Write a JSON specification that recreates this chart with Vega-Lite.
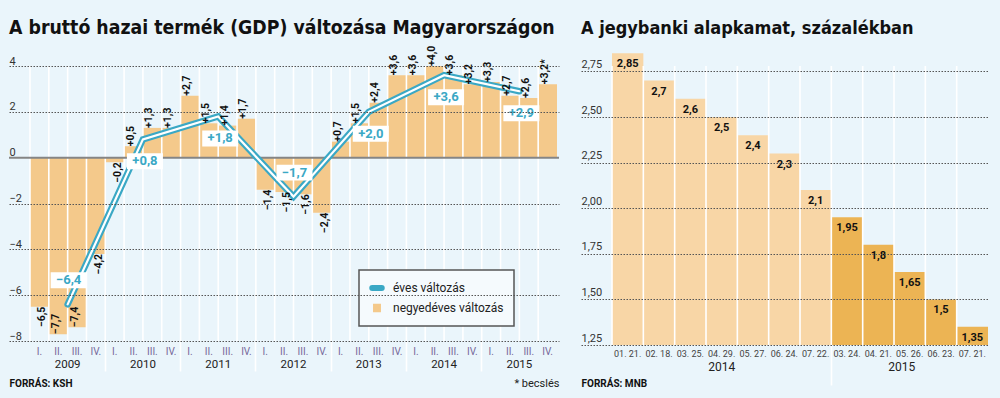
{
  "$schema": "https://vega.github.io/schema/vega-lite/v6.json",
  "background": "#eaf5fb",
  "padding": {"left": 8, "top": 19, "right": 20, "bottom": 20},
  "autosize": {"type": "pad"},
  "bounds": "flush",
  "spacing": 22,
  "resolve": {"scale": {"color": "independent"}, "legend": {"color": "independent"}},
  "config": {
    "view": {"stroke": null},
    "locale": {"number": {"decimal": ",", "thousands": " ", "grouping": [3], "currency": ["", ""]}},
    "font": "Roboto",
    "text": {"font": "Roboto"},
    "axis": {"labelFont": "Roboto", "titleFont": "Roboto"}
  },
  "datasets": {
    "gdpq": [
      {"qk": "2009 I.", "v": -6.5}, {"qk": "2009 II.", "v": -7.7}, {"qk": "2009 III.", "v": -7.4}, {"qk": "2009 IV.", "v": -4.2},
      {"qk": "2010 I.", "v": -0.2}, {"qk": "2010 II.", "v": 0.5}, {"qk": "2010 III.", "v": 1.3}, {"qk": "2010 IV.", "v": 1.3},
      {"qk": "2011 I.", "v": 2.7}, {"qk": "2011 II.", "v": 1.5}, {"qk": "2011 III.", "v": 1.4}, {"qk": "2011 IV.", "v": 1.7},
      {"qk": "2012 I.", "v": -1.4}, {"qk": "2012 II.", "v": -1.5}, {"qk": "2012 III.", "v": -1.6}, {"qk": "2012 IV.", "v": -2.4},
      {"qk": "2013 I.", "v": 0.7}, {"qk": "2013 II.", "v": 1.5}, {"qk": "2013 III.", "v": 2.4}, {"qk": "2013 IV.", "v": 3.6},
      {"qk": "2014 I.", "v": 3.6}, {"qk": "2014 II.", "v": 4.0}, {"qk": "2014 III.", "v": 3.6}, {"qk": "2014 IV.", "v": 3.2},
      {"qk": "2015 I.", "v": 3.3}, {"qk": "2015 II.", "v": 2.7}, {"qk": "2015 III.", "v": 2.6}, {"qk": "2015 IV.", "v": 3.2, "est": true}
    ],
    "gdpy": [
      {"qk": "2009 III.", "a": -6.4}, {"qk": "2010 III.", "a": 0.8}, {"qk": "2011 III.", "a": 1.8},
      {"qk": "2012 III.", "a": -1.7}, {"qk": "2013 III.", "a": 2.0}, {"qk": "2014 III.", "a": 3.6}, {"qk": "2015 III.", "a": 2.9}
    ],
    "rate": [
      {"d": "2014. 01. 21.", "year": "2014", "r": 2.85}, {"d": "2014. 02. 18.", "year": "2014", "r": 2.7},
      {"d": "2014. 03. 25.", "year": "2014", "r": 2.6}, {"d": "2014. 04. 29.", "year": "2014", "r": 2.5},
      {"d": "2014. 05. 27.", "year": "2014", "r": 2.4}, {"d": "2014. 06. 24.", "year": "2014", "r": 2.3},
      {"d": "2014. 07. 22.", "year": "2014", "r": 2.1}, {"d": "2015. 03. 24.", "year": "2015", "r": 1.95},
      {"d": "2015. 04. 21.", "year": "2015", "r": 1.8}, {"d": "2015. 05. 26.", "year": "2015", "r": 1.65},
      {"d": "2015. 06. 23.", "year": "2015", "r": 1.5}, {"d": "2015. 07. 21.", "year": "2015", "r": 1.35}
    ]
  },
  "hconcat": [
    {
      "width": 550,
      "height": 275,
      "title": {"text": "A bruttó hazai termék (GDP) változása Magyarországon", "anchor": "start", "frame": "group", "font": "DejaVu Sans Condensed", "fontSize": 19.3, "fontWeight": "bold", "color": "#111", "offset": -8, "baseline": "alphabetic"},
      "resolve": {"axis": {"x": "independent"}},
      "layer": [
        {
          "data": {"name": "gdpq"},
          "mark": {"type": "bar"},
          "encoding": {
            "x": {"field": "qk", "type": "ordinal", "title": null,
              "scale": {"paddingInner": 0, "paddingOuter": 0.611, "align": 0.913},
              "axis": {"orient": "bottom", "labelExpr": "split(datum.value, ' ')[1]", "labelAngle": 0, "labelFontSize": 10, "labelColor": "#76689a", "labelBaseline": "top",
                "bandPosition": 0, "ticks": true, "tickSize": 30, "tickWidth": 1.6,
                "tickColor": {"condition": {"test": "indexof(datum.value, ' I.') > 0 && datum.value != '2009 I.'", "value": "white"}, "value": "transparent"},
                "labelPadding": -25, "domain": false, "grid": false,
                "title": "* becslés", "titleAnchor": "end", "titleAlign": "right", "titleX": 550, "titleY": 45, "titleBaseline": "alphabetic", "titleFontSize": 11, "titleFontWeight": "normal", "titleColor": "#222"}},
            "y": {"field": "v", "type": "quantitative", "title": null,
              "scale": {"domain": [-8, 4], "nice": false},
              "axis": {"values": [-8, -6, -4, -2, 0, 2, 4], "format": "d", "domain": false, "ticks": false, "tickSize": 0, "labelAlign": "left", "labelBaseline": "alphabetic", "labelPadding": 0, "labelOffset": -2, "labelFlush": false, "labelFontSize": 11, "labelColor": "#333",
                "grid": true, "gridDash": [1.5, 1.5], "gridColor": "#555", "gridWidth": 1.2,
                "gridOpacity": {"condition": {"test": "datum.value === 0", "value": 0}, "value": 1}, "zindex": 1}},
            "color": {"datum": "negyedéves változás", "type": "nominal",
              "scale": {"domain": ["éves változás", "negyedéves változás"], "range": ["#3aa8c5", "#f4c98b"]},
              "legend": {"title": null, "orient": "none", "legendX": 350, "legendY": 204, "direction": "vertical",
                "padding": 10, "rowPadding": 5, "labelOffset": 8, "symbolSize": 169,
                "strokeColor": "#555", "fillColor": "#f5fafd",
                "labelFontSize": 12, "labelColor": "#222", "labelLimit": 300,
                "encode": {
                  "legend": {"update": {"strokeWidth": {"value": 1.5}}},
                  "symbols": {"update": {
                    "shape": {"signal": "datum.value === 'éves változás' ? 'M-0.73,-0.27L0.73,-0.27A0.27,0.27 0 0 1 0.73,0.27L-0.73,0.27A0.27,0.27 0 0 1 -0.73,-0.27Z' : 'M-0.42,-0.45L0.42,-0.45L0.42,0.45L-0.42,0.45Z'"},
                    "fill": {"signal": "datum.value === 'éves változás' ? 'white' : '#f4c98b'"},
                    "stroke": {"signal": "datum.value === 'éves változás' ? '#3aa8c5' : 'transparent'"},
                    "strokeWidth": {"value": 2.5}, "opacity": {"value": 1}, "fillOpacity": {"value": 1}, "strokeOpacity": {"value": 1}}}
                }}}
          }
        },
        {
          "data": {"name": "gdpq"},
          "mark": {"type": "rule", "color": "white", "strokeWidth": 1.6},
          "encoding": {
            "x": {"field": "qk", "type": "ordinal", "bandPosition": 0, "title": null,
              "axis": {"orient": "bottom", "values": ["2009 I.", "2010 I.", "2011 I.", "2012 I.", "2013 I.", "2014 I.", "2015 I."], "labelOffset": 28.23,
                "labelExpr": "split(datum.value, ' ')[0]", "ticks": false, "tickSize": 0, "domain": false, "grid": false, "labelPadding": 17, "labelBaseline": "top", "labelFontSize": 11.5, "labelColor": "#222", "labelAngle": 0,
                "title": "FORRÁS: KSH", "titleX": 0, "titleY": 45, "titleAlign": "left", "titleAnchor": "start", "titleBaseline": "alphabetic", "titleFontSize": 10, "titleFontWeight": "bold", "titleColor": "#111"}},
            "y": {"datum": 4},
            "y2": {"datum": -8}
          }
        },
        {
          "data": {"values": [{}]},
          "mark": {"type": "rule", "color": "#858585", "strokeWidth": 2},
          "encoding": {"y": {"datum": 0}}
        },
        {
          "data": {"name": "gdpy"},
          "mark": {"type": "line", "strokeWidth": 6.5, "strokeCap": "round", "strokeJoin": "miter"},
          "encoding": {
            "x": {"field": "qk", "type": "ordinal", "bandPosition": 0, "axis": null},
            "y": {"field": "a", "type": "quantitative", "title": null},
            "color": {"datum": "éves változás", "type": "nominal"}
          }
        },
        {
          "data": {"name": "gdpy"},
          "mark": {"type": "line", "strokeWidth": 2.2, "strokeCap": "round", "strokeJoin": "miter", "color": "white"},
          "encoding": {
            "x": {"field": "qk", "type": "ordinal", "bandPosition": 0, "axis": null},
            "y": {"field": "a", "type": "quantitative", "title": null}
          }
        },
        {
          "data": {"name": "gdpq"},
          "transform": [{"calculate": "format(datum.v, '+.1f') + (datum.est ? '*' : '')", "as": "lbl"}, {"filter": "datum.v >= 0"}],
          "mark": {"type": "text", "angle": 270, "align": "left", "baseline": "middle", "dy": -3, "fontSize": 10.5, "fontWeight": "bold", "color": "#111"},
          "encoding": {
            "x": {"field": "qk", "type": "ordinal", "axis": null},
            "y": {"field": "v", "type": "quantitative", "title": null},
            "text": {"field": "lbl"}
          }
        },
        {
          "data": {"name": "gdpq"},
          "transform": [{"calculate": "format(datum.v, '+.1f')", "as": "lbl"}, {"filter": "datum.v < 0 && datum.v >= -7"}],
          "mark": {"type": "text", "angle": 270, "align": "right", "baseline": "middle", "dy": 3, "fontSize": 10.5, "fontWeight": "bold", "color": "#111"},
          "encoding": {
            "x": {"field": "qk", "type": "ordinal", "axis": null},
            "y": {"field": "v", "type": "quantitative", "title": null},
            "text": {"field": "lbl"}
          }
        },
        {
          "data": {"name": "gdpq"},
          "transform": [{"calculate": "format(datum.v, '+.1f')", "as": "lbl"}, {"filter": "datum.v < -7"}],
          "mark": {"type": "text", "angle": 270, "align": "left", "baseline": "middle", "dy": -2, "fontSize": 10.5, "fontWeight": "bold", "color": "#111"},
          "encoding": {
            "x": {"field": "qk", "type": "ordinal", "axis": null},
            "y": {"field": "v", "type": "quantitative", "title": null},
            "text": {"field": "lbl"}
          }
        },
        {
          "data": {"name": "gdpy"},
          "transform": [{"filter": "datum.a < 0"}],
          "mark": {"type": "point", "shape": "M-1,-0.444L1,-0.444L1,0.444L-1,0.444Z", "size": 1296, "filled": true, "color": "white", "opacity": 1, "xOffset": 1, "yOffset": -24},
          "encoding": {
            "x": {"field": "qk", "type": "ordinal", "bandPosition": 0, "axis": null},
            "y": {"field": "a", "type": "quantitative", "title": null}
          }
        },
        {
          "data": {"name": "gdpy"},
          "transform": [{"filter": "datum.a >= 0"}],
          "mark": {"type": "point", "shape": "M-1,-0.444L1,-0.444L1,0.444L-1,0.444Z", "size": 1296, "filled": true, "color": "white", "opacity": 1, "xOffset": 2, "yOffset": 22},
          "encoding": {
            "x": {"field": "qk", "type": "ordinal", "bandPosition": 0, "axis": null},
            "y": {"field": "a", "type": "quantitative", "title": null}
          }
        },
        {
          "data": {"name": "gdpy"},
          "transform": [{"filter": "datum.a < 0"}],
          "mark": {"type": "text", "fontSize": 13, "fontWeight": "bold", "color": "#3aa8c5", "align": "center", "baseline": "middle", "xOffset": 1, "yOffset": -24},
          "encoding": {
            "x": {"field": "qk", "type": "ordinal", "bandPosition": 0, "axis": null},
            "y": {"field": "a", "type": "quantitative", "title": null},
            "text": {"field": "a", "type": "quantitative", "format": "+.1f"}
          }
        },
        {
          "data": {"name": "gdpy"},
          "transform": [{"filter": "datum.a >= 0"}],
          "mark": {"type": "text", "fontSize": 13, "fontWeight": "bold", "color": "#3aa8c5", "align": "center", "baseline": "middle", "xOffset": 2, "yOffset": 22},
          "encoding": {
            "x": {"field": "qk", "type": "ordinal", "bandPosition": 0, "axis": null},
            "y": {"field": "a", "type": "quantitative", "title": null},
            "text": {"field": "a", "type": "quantitative", "format": "+.1f"}
          }
        }
      ]
    },
    {
      "width": 408,
      "height": 279,
      "title": {"text": "A jegybanki alapkamat, százalékban", "anchor": "start", "frame": "group", "font": "DejaVu Sans Condensed", "fontSize": 18, "fontWeight": "bold", "color": "#111", "offset": 1, "baseline": "alphabetic"},
      "data": {"name": "rate"},
      "resolve": {"axis": {"x": "independent"}},
      "layer": [
        {
          "mark": {"type": "bar"},
          "encoding": {
            "x": {"field": "d", "type": "ordinal", "title": null,
              "scale": {"paddingInner": 0, "paddingOuter": 0.5106, "align": 0.969},
              "axis": {"orient": "bottom", "labelExpr": "slice(datum.value, 6)", "labelAngle": 0, "labelFontSize": 9, "labelColor": "#444", "labelBaseline": "top",
                "bandPosition": 0, "ticks": true, "tickSize": 40, "tickWidth": 1.6,
                "tickColor": {"condition": {"test": "datum.value == '2015. 03. 24.'", "value": "white"}, "value": "transparent"},
                "labelPadding": -36, "domain": false, "grid": false, "title": null}},
            "y": {"field": "r", "type": "quantitative", "title": null,
              "scale": {"domain": [1.25, 2.78], "nice": false, "zero": false},
              "axis": {"values": [1.25, 1.5, 1.75, 2, 2.25, 2.5, 2.75], "format": ".2f", "domain": false, "ticks": false, "tickSize": 0, "labelAlign": "left", "labelBaseline": "alphabetic", "labelPadding": 0, "labelOffset": -4, "labelFlush": false, "labelFontSize": 11, "labelColor": "#333",
                "grid": true, "gridDash": [1.5, 1.5], "gridColor": "#555", "gridWidth": 1.2, "zindex": 1}},
            "y2": {"datum": 1.25},
            "color": {"field": "year", "type": "nominal", "scale": {"domain": ["2014", "2015"], "range": ["#f8d6a6", "#ecb454"]}, "legend": null}
          }
        },
        {
          "mark": {"type": "rule", "color": "white", "strokeWidth": 1.6},
          "encoding": {
            "x": {"field": "d", "type": "ordinal", "bandPosition": 0, "title": null,
              "axis": {"orient": "bottom", "values": ["2014. 04. 29.", "2015. 05. 26."], "labelExpr": "slice(datum.value, 0, 4)", "ticks": false, "tickSize": 0, "domain": false, "grid": false,
                "labelPadding": 16, "labelBaseline": "top", "labelFontSize": 12, "labelColor": "#222", "labelAngle": 0,
                "labelOffset": {"condition": {"test": "datum.value == '2015. 05. 26.'", "value": -8}, "value": 0},
                "title": "FORRÁS: MNB", "titleX": 0, "titleY": 41, "titleAlign": "left", "titleAnchor": "start", "titleBaseline": "alphabetic", "titleFontSize": 10, "titleFontWeight": "bold", "titleColor": "#111"}},
            "y": {"datum": 2.78},
            "y2": {"datum": 1.25}
          }
        },
        {
          "mark": {"type": "text", "baseline": "middle", "align": "center", "dy": 11, "fontSize": 11, "fontWeight": "bold", "color": "#111"},
          "encoding": {
            "x": {"field": "d", "type": "ordinal", "axis": null},
            "y": {"field": "r", "type": "quantitative", "title": null},
            "text": {"field": "r", "type": "quantitative", "format": "~g"}
          }
        }
      ]
    }
  ]
}
